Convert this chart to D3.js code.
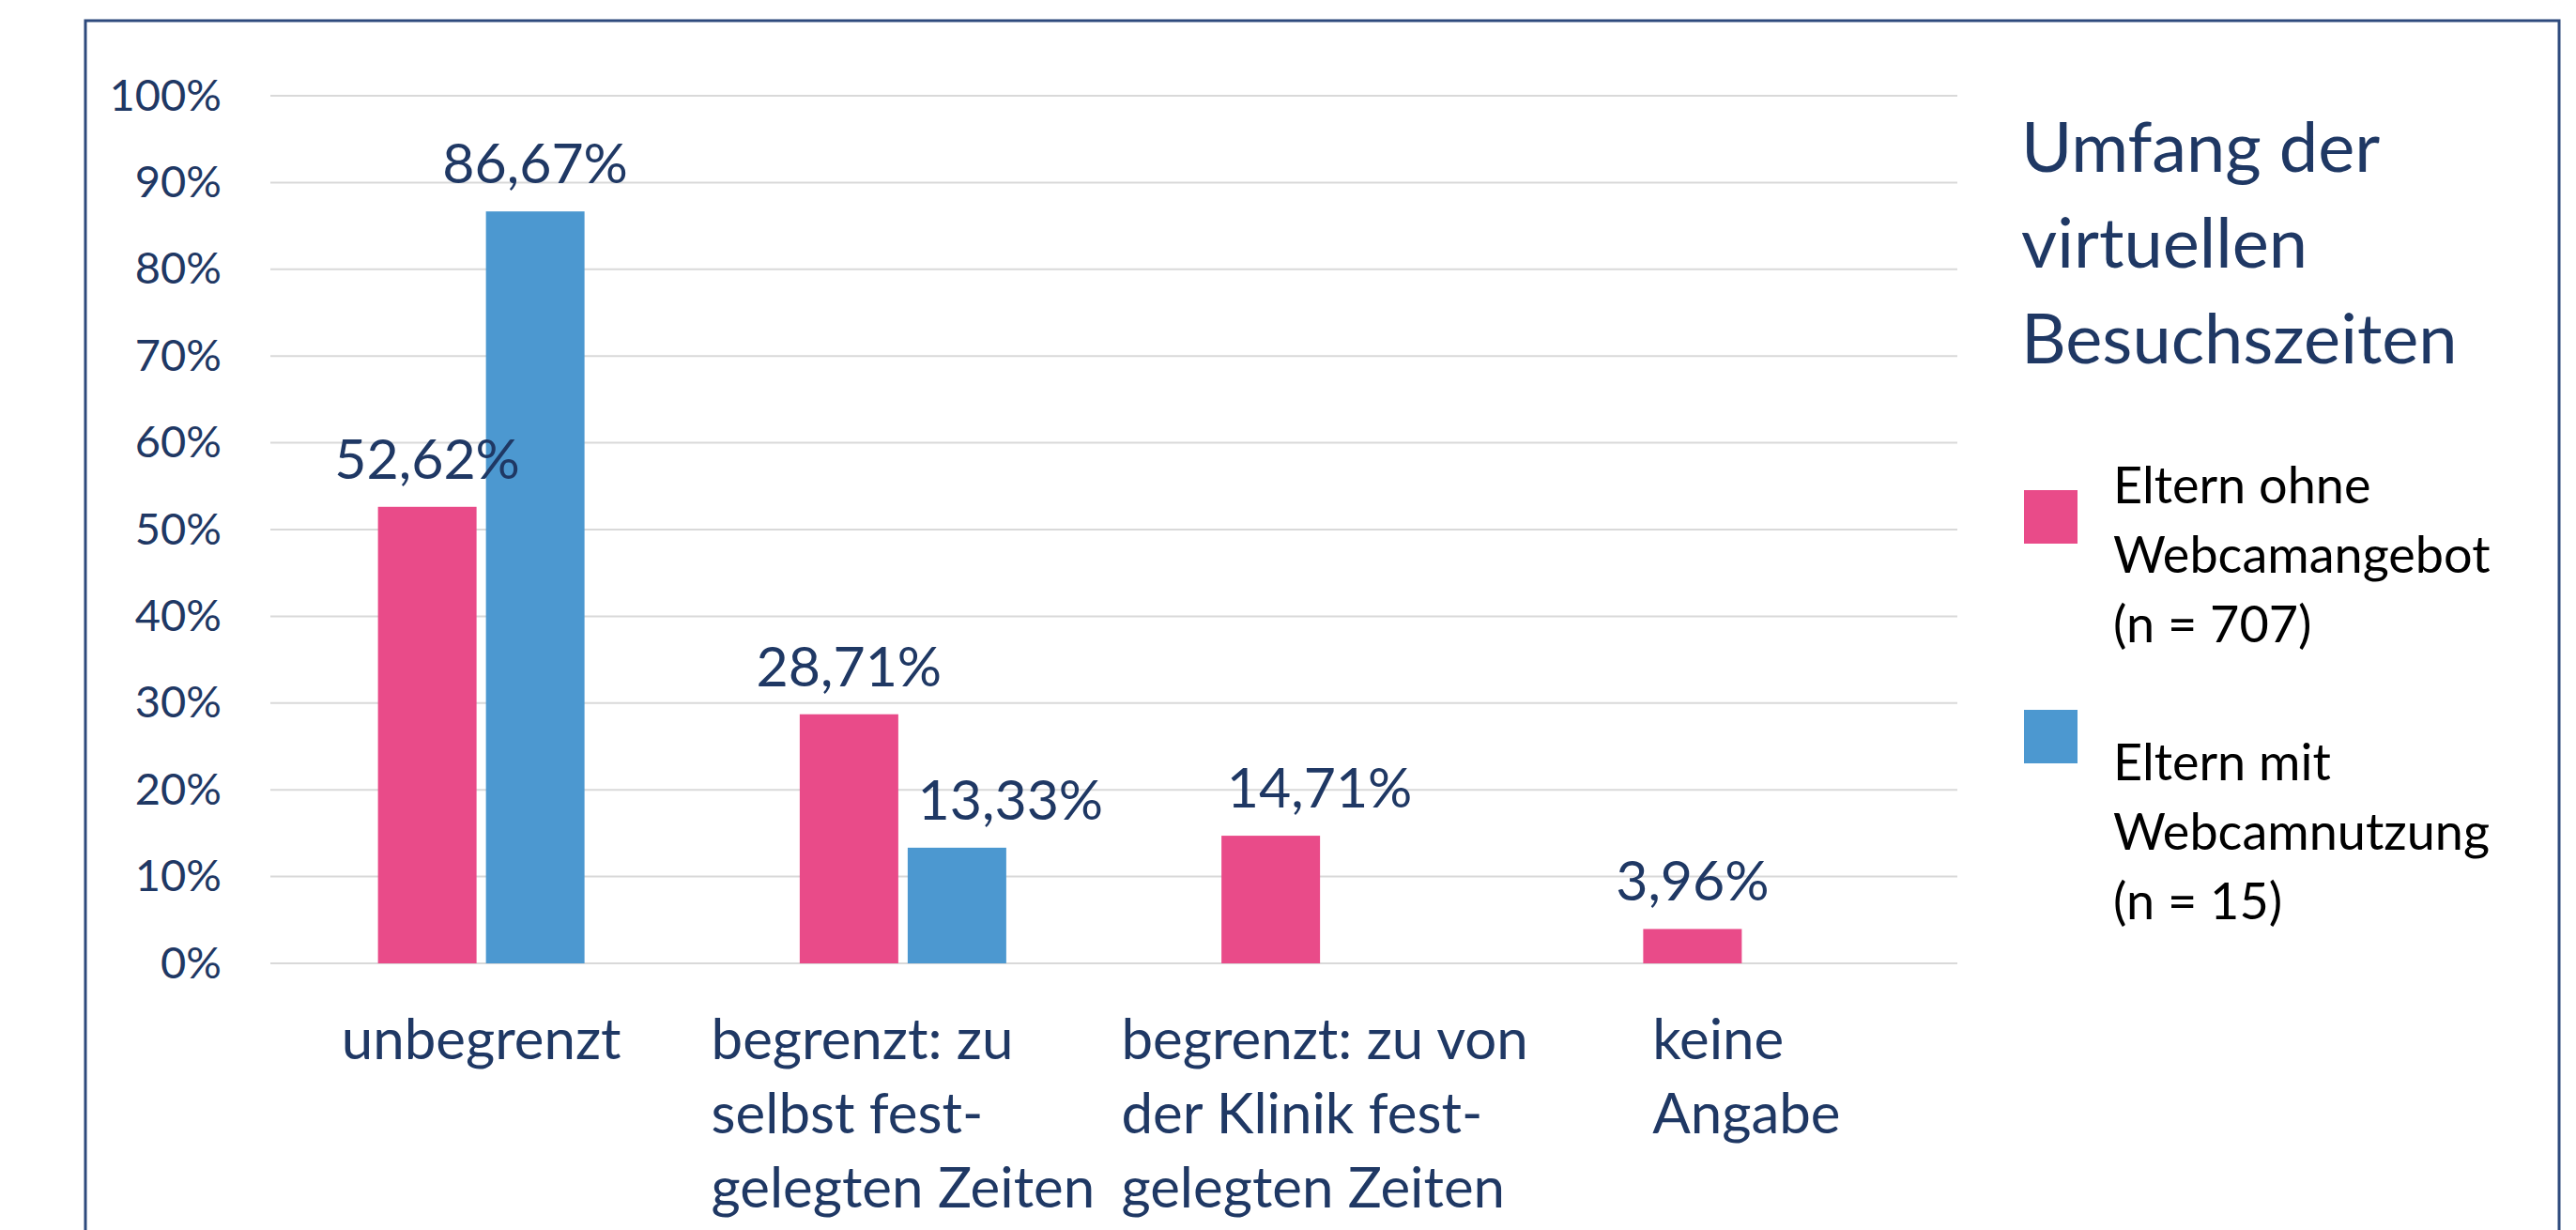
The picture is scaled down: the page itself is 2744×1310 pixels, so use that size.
<!DOCTYPE html>
<html>
<head>
<meta charset="utf-8">
<script src="https://cdn.jsdelivr.net/npm/d3@7"></script>
<style>
  body { margin: 0; background: #fff; }
  text { font-family: Lato, "Open Sans", sans-serif; }
</style>
</head>
<body>
<script>
// data
const categories = ['unbegrenzt', 'begrenzt selbst', 'begrenzt Klinik', 'keine Angabe']
const categoryLines = [
    ['unbegrenzt'],
    ['begrenzt: zu', 'selbst fest-', 'gelegten Zeiten'],
    ['begrenzt: zu von', 'der Klinik fest-', 'gelegten Zeiten'],
    ['keine', 'Angabe']
]
const seriesNames = ['Eltern ohne Webcamangebot', 'Eltern mit Webcamnutzung']
const legendLines = [
    ['Eltern ohne', 'Webcamangebot', '(n = 707)'],
    ['Eltern mit', 'Webcamnutzung', '(n = 15)']
]
const ohneValues = [52.62, 28.71, 14.71, 3.96]
const mitValues = [86.67, 13.33, 0, 0]
const yTicks = [0, 10, 20, 30, 40, 50, 60, 70, 80, 90, 100]
const titleLines = ['Umfang der', 'virtuellen', 'Besuchszeiten']

const colors = ['#E94B89', '#4C98D0']
const navy = '#1F3864'

const m = { width: 2744, height: 1310 }

const svg = d3.select('body').append('svg')
    .attr('width', m.width)
    .attr('height', m.height)

svg.append('rect')
    .attr('width', m.width).attr('height', m.height)
    .attr('fill', '#fff')

// frame
svg.append('rect')
    .attr('x', 91).attr('y', 22)
    .attr('width', 2635).attr('height', 1400)
    .attr('fill', 'none')
    .attr('stroke', '#2E4A7D')
    .attr('stroke-width', 3)

const x0 = d3.scaleBand()
    .domain(categories)
    .range([288, 2085])

const groupW = 220
const x1 = d3.scaleBand()
    .domain(seriesNames)
    .range([0, groupW])
    .paddingInner(0.087)

const y = d3.scaleLinear()
    .domain([0, 100])
    .range([1026, 102])

// gridlines
svg.append('g')
    .selectAll('line')
    .data(yTicks)
    .enter()
    .append('line')
    .attr('x1', 288).attr('x2', 2085)
    .attr('y1', d => y(d)).attr('y2', d => y(d))
    .attr('stroke', '#D9D9D9')
    .attr('stroke-width', 2)

// y axis
const yAxis = svg.append('g')
    .attr('transform', 'translate(288,0)')
    .call(d3.axisLeft(y).tickValues(yTicks).tickSize(0).tickPadding(52).tickFormat(d => d + '%'))
yAxis.select('.domain').remove()
yAxis.selectAll('text')
    .attr('fill', navy)
    .style('font-size', '47px')
    .style('font-family', 'Lato')

const rows = categories.map((c, i) => ({
    cat: c,
    vals: [
        { s: seriesNames[0], v: ohneValues[i] },
        { s: seriesNames[1], v: mitValues[i] }
    ]
}))

const groups = svg.selectAll('.grp')
    .data(rows)
    .enter()
    .append('g')
    .attr('transform', d => 'translate(' + (x0(d.cat) + (x0.bandwidth() - groupW) / 2) + ',0)')

groups.selectAll('rect')
    .data(d => d.vals.filter(e => e.v > 0))
    .enter()
    .append('rect')
    .attr('x', d => x1(d.s))
    .attr('y', d => y(d.v))
    .attr('width', x1.bandwidth())
    .attr('height', d => y(0) - y(d.v))
    .attr('fill', (d, i) => colors[seriesNames.indexOf(d.s)])

// data labels (two labels were moved sideways in the original)
const nudge = { '1|1': 57, '2|0': 52 }
groups.each(function (row, ci) {
    d3.select(this).selectAll('.lbl')
        .data(row.vals.filter(e => e.v > 0))
        .enter()
        .append('text')
        .attr('x', d => x1(d.s) + x1.bandwidth() / 2 + (nudge[ci + '|' + seriesNames.indexOf(d.s)] || 0))
        .attr('y', d => y(d.v) - 30)
        .attr('text-anchor', 'middle')
        .attr('fill', navy)
        .style('font-size', '59px')
        .text(d => d.v.toFixed(2).replace('.', ',') + '%')
})

// category labels
categories.forEach((c, i) => {
    const g = svg.append('g')
    const t = g.selectAll('text')
        .data(categoryLines[i])
        .enter()
        .append('text')
        .attr('y', (d, j) => 1128 + j * 79)
        .attr('fill', navy)
        .style('font-size', '60px')
        .text(d => d)
    let w = 0
    t.each(function () { w = Math.max(w, this.getComputedTextLength()) })
    t.attr('x', x0(c) + x0.bandwidth() / 2 - w / 2)
})

// title
svg.append('g')
    .selectAll('text')
    .data(titleLines)
    .enter()
    .append('text')
    .attr('x', 2153)
    .attr('y', (d, i) => 183 + i * 102)
    .attr('fill', navy)
    .style('font-size', '74px')
    .text(d => d)

// legend
const legend = svg.selectAll('.leg')
    .data(seriesNames)
    .enter()
    .append('g')
    .attr('transform', (d, i) => 'translate(0,' + (i * 234) + ')')

legend.append('rect')
    .attr('x', 2156).attr('y', 522)
    .attr('width', 57).attr('height', 57)
    .attr('fill', (d, i) => colors[i])

legend.each(function (d, i) {
    d3.select(this).selectAll('text')
        .data(legendLines[i])
        .enter()
        .append('text')
        .attr('x', 2251)
        .attr('y', (t, j) => 536 + (i === 1 ? 61 : 0) + j * 74)
        .attr('fill', '#000')
        .style('font-size', '54px')
        .text(t => t)
})
</script>
</body>
</html>
